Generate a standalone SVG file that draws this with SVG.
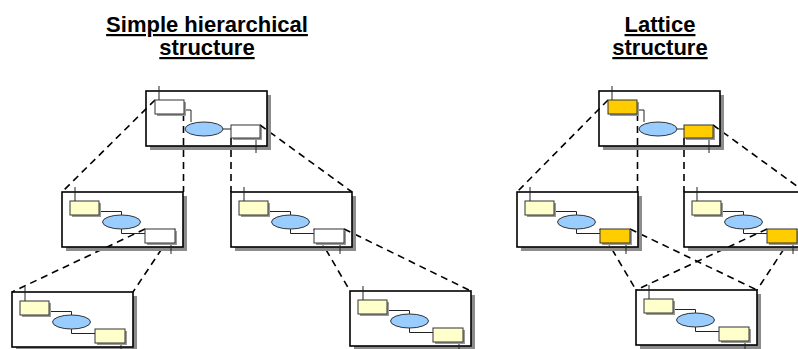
<svg xmlns="http://www.w3.org/2000/svg" width="798" height="349" viewBox="0 0 798 349">
  <style>
    .title { font-family: "Liberation Sans", Arial, sans-serif; font-size: 22px; font-weight: bold; fill: #000; text-anchor: middle; text-decoration: underline; }
    .dash { fill: none; stroke: #000; stroke-width: 1.6; stroke-dasharray: 7 5; }
    .shadow { fill: #8c8c8c; }
    .box { fill: none; stroke: #000; stroke-width: 1.6; }
    .wire { fill: none; stroke: #222; stroke-width: 1; }
    .sh { fill: #9a9a9a; }
    .cell { stroke: #333; stroke-width: 1; }
    .white { fill: #ffffff; }
    .pale { fill: #ffffcc; }
    .gold { fill: #ffcc00; }
    .ell { fill: #99ccff; stroke: #333; stroke-width: 1; }
  </style>

  <!-- headings -->
  <text class="title" x="207" y="32">Simple hierarchical</text>
  <text class="title" x="207" y="55">structure</text>
  <text class="title" x="660" y="32">Lattice</text>
  <text class="title" x="660" y="55">structure</text>

  <!-- projection lines (drawn beneath the node contents) -->
  <g id="connectors">
    <path class="dash" d="M155,100 L62,192"/>
    <path class="dash" d="M183.5,114 L183.5,192"/>
    <path class="dash" d="M231,138 L231,192"/>
    <path class="dash" d="M260,125 L352,192"/>
    <path class="dash" d="M145,229 L12,292"/>
    <path class="dash" d="M175,229 L133,292"/>
    <path class="dash" d="M314,229 L350,291"/>
    <path class="dash" d="M344,229 L471,291"/>

    <path class="dash" d="M608,100 L517,192"/>
    <path class="dash" d="M637.5,114 L637.5,192"/>
    <path class="dash" d="M684,138 L684,192"/>
    <path class="dash" d="M713,125 L805,192"/>
    <path class="dash" d="M600,229 L636,290"/>
    <path class="dash" d="M630,229 L757,290"/>
    <path class="dash" d="M767,229 L636,290"/>
    <path class="dash" d="M797,229 L757,290"/>
  </g>

  <!-- left structure: root -->
  <g id="h-root" transform="translate(146,91)">
    <path class="shadow" d="M121,4h4v55h-121v-4h117z"/>
    <rect class="box" width="121" height="55"/>
    <path class="wire" d="M13,-5V9 M38,19H45V31 M77,38H85 M110,47V62"/>
    <rect class="sh" x="11" y="11" width="29" height="14"/>
    <rect class="cell white" x="9" y="9" width="29" height="14"/>
    <ellipse class="ell" cx="58" cy="38" rx="19" ry="7"/>
    <rect class="sh" x="87" y="36" width="29" height="13"/>
    <rect class="cell white" x="85" y="34" width="29" height="13"/>
  </g>

  <g id="h-mid-left" transform="translate(62,192)">
    <path class="shadow" d="M121,4h4v55h-121v-4h117z"/>
    <rect class="box" width="121" height="55"/>
    <path class="wire" d="M13,-5V9 M37,19.5H59.5V23 M59.5,37V41.5H83 M109,51V62"/>
    <rect class="sh" x="10" y="11" width="29" height="14"/>
    <rect class="cell pale" x="8" y="9" width="29" height="14"/>
    <ellipse class="ell" cx="59.5" cy="30" rx="19" ry="7"/>
    <rect class="sh" x="85" y="39" width="30" height="14"/>
    <rect class="cell white" x="83" y="37" width="30" height="14"/>
  </g>

  <g id="h-mid-right" transform="translate(231,192)">
    <path class="shadow" d="M121,4h4v55h-121v-4h117z"/>
    <rect class="box" width="121" height="55"/>
    <path class="wire" d="M13,-5V9 M37,19.5H59.5V23 M59.5,37V41.5H83 M109,51V62"/>
    <rect class="sh" x="10" y="11" width="29" height="14"/>
    <rect class="cell pale" x="8" y="9" width="29" height="14"/>
    <ellipse class="ell" cx="59.5" cy="30" rx="19" ry="7"/>
    <rect class="sh" x="85" y="39" width="30" height="14"/>
    <rect class="cell white" x="83" y="37" width="30" height="14"/>
  </g>

  <g id="h-leaf-left" transform="translate(12,292)">
    <path class="shadow" d="M121,4h4v55h-121v-4h117z"/>
    <rect class="box" width="121" height="55"/>
    <path class="wire" d="M13,-5V9 M37,19.5H59.5V23 M59.5,37V41.5H83 M109,51V62"/>
    <rect class="sh" x="10" y="11" width="29" height="14"/>
    <rect class="cell pale" x="8" y="9" width="29" height="14"/>
    <ellipse class="ell" cx="59.5" cy="30" rx="19" ry="7"/>
    <rect class="sh" x="85" y="39" width="30" height="14"/>
    <rect class="cell pale" x="83" y="37" width="30" height="14"/>
  </g>

  <g id="h-leaf-right" transform="translate(350,291)">
    <path class="shadow" d="M121,4h4v55h-121v-4h117z"/>
    <rect class="box" width="121" height="55"/>
    <path class="wire" d="M13,-5V9 M37,19.5H59.5V23 M59.5,37V41.5H83 M109,51V62"/>
    <rect class="sh" x="10" y="11" width="29" height="14"/>
    <rect class="cell pale" x="8" y="9" width="29" height="14"/>
    <ellipse class="ell" cx="59.5" cy="30" rx="19" ry="7"/>
    <rect class="sh" x="85" y="39" width="30" height="14"/>
    <rect class="cell pale" x="83" y="37" width="30" height="14"/>
  </g>

  <!-- right structure: root -->
  <g id="l-root" transform="translate(599,91)">
    <path class="shadow" d="M121,4h4v55h-121v-4h117z"/>
    <rect class="box" width="121" height="55"/>
    <path class="wire" d="M13,-5V9 M38,19H45V31 M77,38H85 M110,47V62"/>
    <rect class="sh" x="11" y="11" width="29" height="14"/>
    <rect class="cell gold" x="9" y="9" width="29" height="14"/>
    <ellipse class="ell" cx="59" cy="38" rx="19" ry="7"/>
    <rect class="sh" x="87" y="36" width="29" height="13"/>
    <rect class="cell gold" x="85" y="34" width="29" height="13"/>
  </g>

  <g id="l-mid-left" transform="translate(517,192)">
    <path class="shadow" d="M121,4h4v55h-121v-4h117z"/>
    <rect class="box" width="121" height="55"/>
    <path class="wire" d="M13,-5V9 M37,19.5H59.5V23 M59.5,37V41.5H83 M109,51V62"/>
    <rect class="sh" x="10" y="11" width="29" height="14"/>
    <rect class="cell pale" x="8" y="9" width="29" height="14"/>
    <ellipse class="ell" cx="59.5" cy="30" rx="19" ry="7"/>
    <rect class="sh" x="85" y="39" width="30" height="14"/>
    <rect class="cell gold" x="83" y="37" width="30" height="14"/>
  </g>

  <g id="l-mid-right" transform="translate(684,192)">
    <path class="shadow" d="M121,4h4v55h-121v-4h117z"/>
    <rect class="box" width="121" height="55"/>
    <path class="wire" d="M13,-5V9 M37,19.5H59.5V23 M59.5,37V41.5H83 M109,51V62"/>
    <rect class="sh" x="10" y="11" width="29" height="14"/>
    <rect class="cell pale" x="8" y="9" width="29" height="14"/>
    <ellipse class="ell" cx="59.5" cy="30" rx="19" ry="7"/>
    <rect class="sh" x="85" y="39" width="30" height="14"/>
    <rect class="cell gold" x="83" y="37" width="30" height="14"/>
  </g>

  <g id="l-leaf" transform="translate(636,290)">
    <path class="shadow" d="M121,4h4v55h-121v-4h117z"/>
    <rect class="box" width="121" height="55"/>
    <path class="wire" d="M13,-5V9 M37,19.5H59.5V23 M59.5,37V41.5H83 M109,51V62"/>
    <rect class="sh" x="10" y="11" width="29" height="14"/>
    <rect class="cell pale" x="8" y="9" width="29" height="14"/>
    <ellipse class="ell" cx="59.5" cy="30" rx="19" ry="7"/>
    <rect class="sh" x="85" y="39" width="30" height="14"/>
    <rect class="cell pale" x="83" y="37" width="30" height="14"/>
  </g>
</svg>
